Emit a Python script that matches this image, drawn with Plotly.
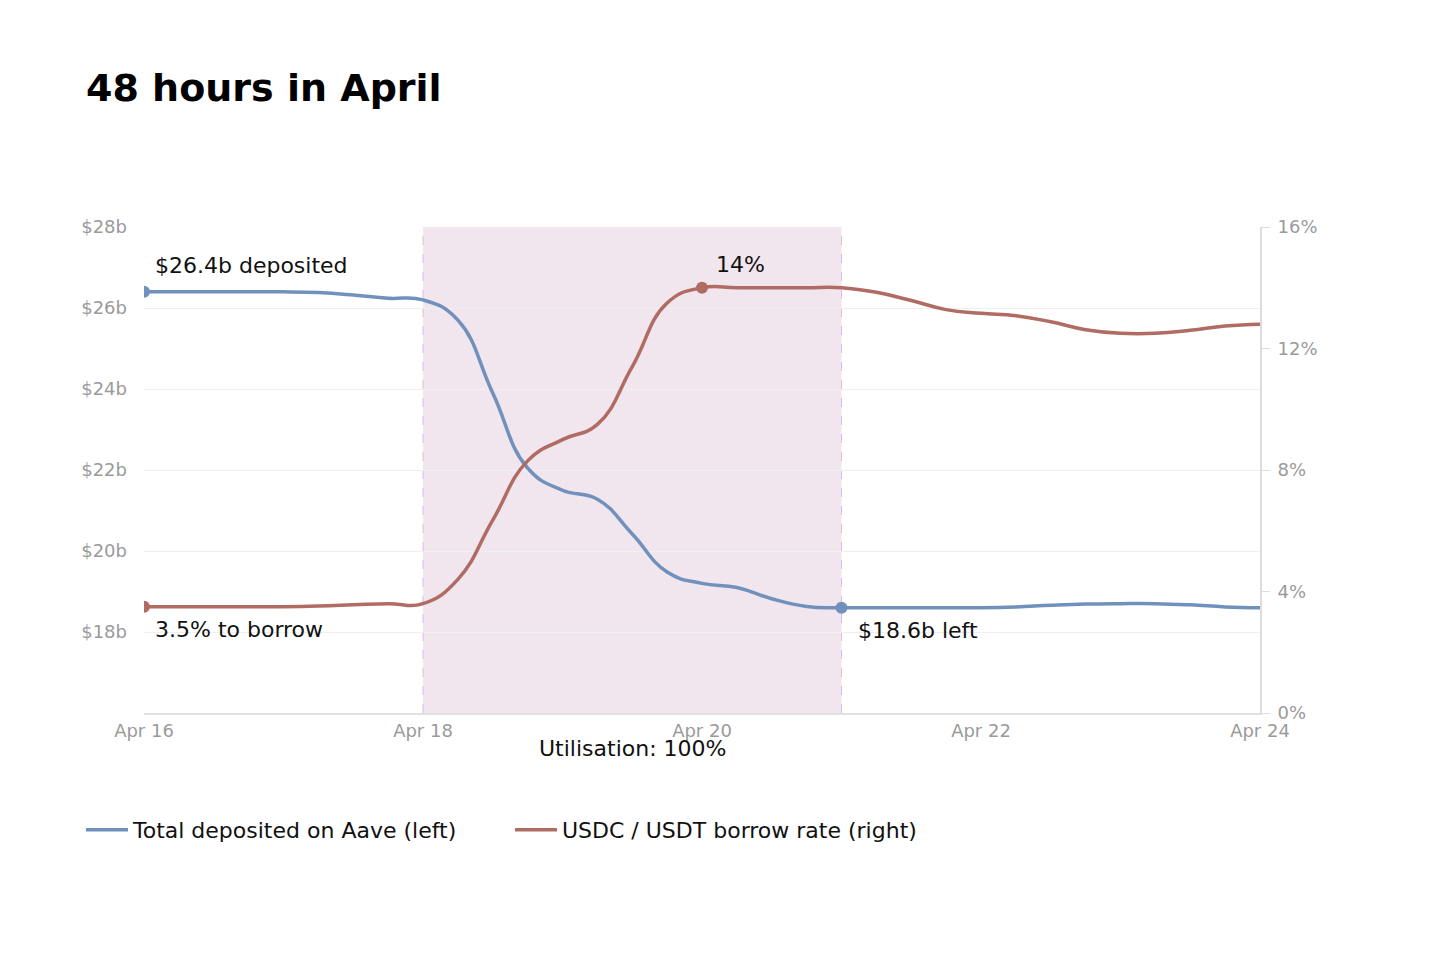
import pandas as pd
import plotly.graph_objects as go

# 6-hourly readings, Apr 16 00:00 -> Apr 24 00:00
times = pd.date_range("2024-04-16", "2024-04-24", freq="6h")

deposited_bn = [
    26.4, 26.4, 26.4, 26.4,        # Apr 16
    26.4, 26.38, 26.32, 26.24,     # Apr 17
    26.2, 25.7, 23.9, 22.05,       # Apr 18
    21.5, 21.28, 20.42, 19.48,     # Apr 19
    19.2, 19.1, 18.82, 18.63,      # Apr 20
    18.6, 18.6, 18.6, 18.6,        # Apr 21
    18.6, 18.62, 18.66, 18.69,     # Apr 22
    18.7, 18.7, 18.67, 18.62,      # Apr 23
    18.6,                          # Apr 24
]
borrow_rate = [
    3.5, 3.5, 3.5, 3.5,
    3.5, 3.52, 3.56, 3.6,
    3.6, 4.4, 6.35, 8.3,
    9.0, 9.5, 11.4, 13.5,
    14.0, 14.0, 14.0, 14.0,
    14.0, 13.85, 13.58, 13.28,
    13.16, 13.08, 12.88, 12.62,
    12.5, 12.5, 12.6, 12.74,
    12.8,
]

left_ticks = [18, 20, 22, 24, 26, 28]
left_labels = ["$18b", "$20b", "$22b", "$24b", "$26b", "$28b"]
right_ticks = [0, 4, 8, 12, 16]
right_labels = ["0%", "4%", "8%", "12%", "16%"]
x_ticks = ["2024-04-16", "2024-04-18", "2024-04-20", "2024-04-22", "2024-04-24"]
x_labels = ["Apr 16", "Apr 18", "Apr 20", "Apr 22", "Apr 24"]

squeeze_start, squeeze_end = "2024-04-18", "2024-04-21"
i_peak = 16     # Apr 20 00:00, rate hits 14%
i_left = 20     # Apr 21 00:00, $18.6b left

BLUE = "#7191bd"
RED = "#b06b62"
GREY = "#9a9a9a"
FONT = "DejaVu Sans"

fig = go.Figure()

fig.add_vrect(
    x0=squeeze_start, x1=squeeze_end,
    fillcolor="#f1e5ee", opacity=1, layer="below", line_width=0,
)
for edge in (squeeze_start, squeeze_end):
    fig.add_vline(x=edge, line=dict(color="#dcbddf", width=1, dash="dash"), layer="below")

fig.add_trace(go.Scatter(
    x=times, y=deposited_bn,
    name="Total deposited on Aave (left)",
    mode="lines",
    line=dict(color=BLUE, width=3.5, shape="spline", smoothing=1.3),
    yaxis="y",
))
fig.add_trace(go.Scatter(
    x=times, y=borrow_rate,
    name="USDC / USDT borrow rate (right)",
    mode="lines",
    line=dict(color=RED, width=3.5, shape="spline", smoothing=1.3),
    yaxis="y2",
))

# highlighted points
fig.add_trace(go.Scatter(
    x=[times[0], times[i_left]], y=[deposited_bn[0], deposited_bn[i_left]],
    mode="markers", marker=dict(color=BLUE, size=12),
    showlegend=False, yaxis="y",
))
fig.add_trace(go.Scatter(
    x=[times[0], times[i_peak]], y=[borrow_rate[0], borrow_rate[i_peak]],
    mode="markers", marker=dict(color=RED, size=12),
    showlegend=False, yaxis="y2",
))

ann_font = dict(family=FONT, size=22, color="#111")
fig.add_annotation(x=times[0], y=deposited_bn[0], yref="y", text="$26.4b deposited",
                   showarrow=False, xanchor="left", xshift=9, yshift=26, font=ann_font)
fig.add_annotation(x=times[0], y=borrow_rate[0], yref="y2", text="3.5% to borrow",
                   showarrow=False, xanchor="left", xshift=9, yshift=-23, font=ann_font)
fig.add_annotation(x=times[i_peak], y=borrow_rate[i_peak], yref="y2", text="14%",
                   showarrow=False, xanchor="left", xshift=12, yshift=23, font=ann_font)
fig.add_annotation(x=times[i_left], y=deposited_bn[i_left], yref="y", text="$18.6b left",
                   showarrow=False, xanchor="left", xshift=14, yshift=-23, font=ann_font)
fig.add_annotation(x="2024-04-19 12:00", y=-0.074, yref="paper", text="Utilisation: 100%",
                   showarrow=False, xanchor="center", yanchor="middle", font=ann_font)

fig.update_layout(
    width=1456, height=957,
    paper_bgcolor="white", plot_bgcolor="white",
    margin=dict(l=136, r=204, t=219, b=252),
    font=dict(family=FONT, size=18, color=GREY),
    title=dict(
        text="<b>48 hours in April</b>",
        font=dict(family=FONT, size=38, color="#000"),
        xref="container", yref="container",
        x=78 / 1456, y=1 - 80 / 957, xanchor="left", yanchor="middle",
    ),
    xaxis=dict(
        type="date", range=["2024-04-16", "2024-04-24"],
        tickvals=x_ticks, ticktext=x_labels,
        showgrid=False, showline=True, linecolor="#e0e0e0", linewidth=2,
        ticks="", zeroline=False,
    ),
    yaxis=dict(
        range=[16, 28], tickvals=left_ticks, ticktext=left_labels,
        showgrid=True, gridcolor="#efefef", gridwidth=1,
        showline=False, zeroline=False, ticks="", ticklabelstandoff=16,
    ),
    yaxis2=dict(
        range=[0, 16], tickvals=right_ticks, ticktext=right_labels,
        overlaying="y", side="right", showgrid=False, zeroline=False,
        showline=True, linecolor="#dcdcdc", linewidth=2,
        ticks="outside", ticklen=8, tickcolor="#dcdcdc", ticklabelstandoff=4,
    ),
    showlegend=True,
    legend=dict(
        orientation="h", xref="container", yref="container",
        x=73 / 1456, y=1 - 822 / 957, xanchor="left", yanchor="middle",
        font=dict(family=FONT, size=22, color="#111"),
        itemwidth=42,
        entrywidth=372, entrywidthmode="pixels",
    ),
)

fig.write_html("out.html")
